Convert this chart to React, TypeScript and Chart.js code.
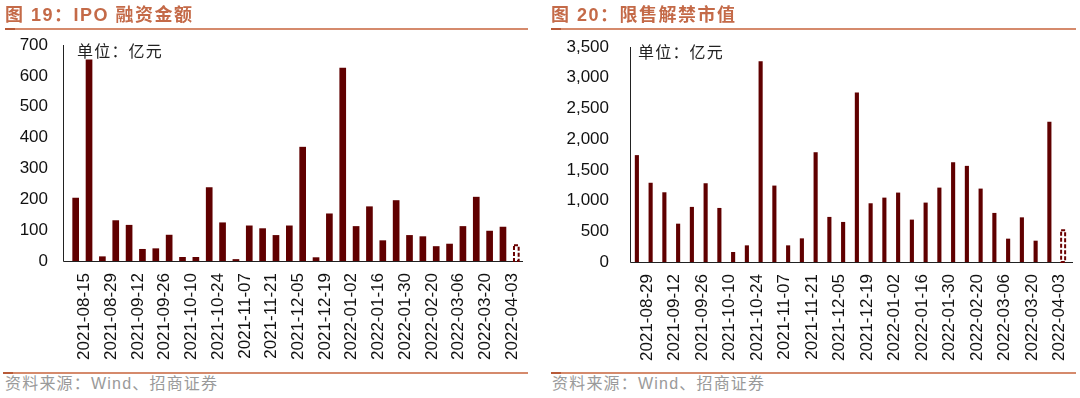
import React, { useEffect, useRef } from "react";
import { Chart, registerables } from "chart.js";

Chart.register(...registerables);

// ---- Data ----
const ipoDates = [
  "2021-08-15", "2021-08-22", "2021-08-29", "2021-09-05", "2021-09-12", "2021-09-19",
  "2021-09-26", "2021-10-03", "2021-10-10", "2021-10-17", "2021-10-24", "2021-10-31",
  "2021-11-07", "2021-11-14", "2021-11-21", "2021-11-28", "2021-12-05", "2021-12-12",
  "2021-12-19", "2021-12-26", "2022-01-02", "2022-01-09", "2022-01-16", "2022-01-23",
  "2022-01-30", "2022-02-13", "2022-02-20", "2022-02-27", "2022-03-06", "2022-03-13",
  "2022-03-20", "2022-03-27", "2022-04-03", "2022-04-10",
];
const ipoValues = [
  205, 653, 15, 132, 117, 39, 41, 85, 13, 13, 239, 125, 6, 115, 106, 84, 115,
  370, 12, 154, 626, 113, 177, 67, 197, 84, 80, 48, 56, 113, 208, 98, 111, 54,
];

const unlockDates = [
  "2021-08-29", "2021-09-05", "2021-09-12", "2021-09-19", "2021-09-26", "2021-10-03",
  "2021-10-10", "2021-10-17", "2021-10-24", "2021-10-31", "2021-11-07", "2021-11-14",
  "2021-11-21", "2021-11-28", "2021-12-05", "2021-12-12", "2021-12-19", "2021-12-26",
  "2022-01-02", "2022-01-09", "2022-01-16", "2022-01-23", "2022-01-30", "2022-02-13",
  "2022-02-20", "2022-02-27", "2022-03-06", "2022-03-13", "2022-03-20", "2022-03-27",
  "2022-04-03", "2022-04-10",
];
const unlockValues = [
  1740, 1290, 1135, 624, 897, 1282, 880, 163, 271, 3266, 1244, 271, 385, 1787, 734,
  652, 2760, 956, 1048, 1130, 690, 967, 1211, 1624, 1565, 1195, 799, 380, 727, 347,
  2283, 532,
];

const leftTitle = "图 19：IPO 融资金额";
const rightTitle = "图 20：限售解禁市值";
const unitText = "单位：亿元";
const sourceText = "资料来源：Wind、招商证券";

const BAR = "#600000";
const TITLE_COLOR = "#C46A48";
const LINE_COLOR = "#D58A6C";

const dashedLastBar = {
  id: "dashedLastBar",
  afterDatasetsDraw(chart: any) {
    const meta = chart.getDatasetMeta(0);
    const el = meta.data[meta.data.length - 1];
    if (!el) return;
    const p = el.getProps(["x", "y", "width", "base"], true);
    const w = Math.max(p.width, 6);
    const ctx = chart.ctx;
    ctx.save();
    ctx.fillStyle = "#ffffff";
    ctx.fillRect(p.x - w / 2, p.y, w, p.base - p.y);
    ctx.strokeStyle = "#6a0000";
    ctx.lineWidth = 2;
    ctx.setLineDash([4, 2]);
    ctx.strokeRect(p.x - w / 2 + 1, p.y + 1, w - 2, p.base - p.y - 1);
    ctx.restore();
  },
};

function makeAxisLines(gap: number, ext: number) {
  return {
    id: "axisLines",
    beforeDatasetsDraw(chart: any) {
      const { left, right, top, bottom } = chart.chartArea;
      const ctx = chart.ctx;
      const ax = Math.round(left - gap) + 0.5;
      const by = Math.round(bottom) + 0.5;
      ctx.save();
      ctx.strokeStyle = "#222";
      ctx.lineWidth = 1;
      ctx.beginPath();
      ctx.moveTo(ax, Math.round(top));
      ctx.lineTo(ax, by);
      ctx.lineTo(right + ext, by);
      ctx.stroke();
      ctx.restore();
    },
  };
}

type PanelCfg = {
  labels: string[];
  values: number[];
  max: number;
  step: number;
  yWidth: number;
  yPad: number;
  top: number;
  right: number;
  xHeight: number;
  barPct: number;
  labelOffset: number;
  commas: boolean;
  gap: number;
  ext: number;
};

const TICK_FONT = { family: "'Liberation Sans', Arial, sans-serif", size: 17 };

function BarPanel({ cfg }: { cfg: PanelCfg }) {
  const ref = useRef<HTMLCanvasElement | null>(null);
  useEffect(() => {
    if (!ref.current) return;
    const n = cfg.values.length;
    const colors = cfg.values.map((_, i) => (i === n - 1 ? "rgba(0,0,0,0)" : BAR));
    const chart = new Chart(ref.current, {
      type: "bar",
      data: {
        labels: cfg.labels,
        datasets: [
          {
            data: cfg.values,
            backgroundColor: colors,
            borderWidth: 0,
            barPercentage: cfg.barPct,
            categoryPercentage: 1,
          },
        ],
      },
      options: {
        responsive: false,
        animation: false,
        events: [],
        layout: { padding: { left: 0, top: cfg.top, right: cfg.right, bottom: 0 } },
        plugins: { legend: { display: false }, tooltip: { enabled: false }, title: { display: false } },
        scales: {
          x: {
            grid: { display: false, drawTicks: false },
            border: { display: false },
            ticks: {
              autoSkip: false,
              maxRotation: 90,
              minRotation: 90,
              padding: 12,
              labelOffset: cfg.labelOffset,
              color: "#111",
              font: TICK_FONT,
              callback: (_v: any, i: number) => (i % 2 === 0 ? cfg.labels[i] : ""),
            },
            afterFit: (s: any) => {
              s.height = cfg.xHeight;
              s.paddingLeft = 0;
              s.paddingRight = 0;
            },
          },
          y: {
            min: 0,
            max: cfg.max,
            grid: { display: false, drawTicks: false },
            border: { display: false },
            ticks: {
              stepSize: cfg.step,
              padding: cfg.yPad,
              color: "#111",
              font: TICK_FONT,
              callback: (v: any) => (cfg.commas ? Number(v).toLocaleString("en-US") : String(v)),
            },
            afterFit: (s: any) => {
              s.width = cfg.yWidth;
              s.paddingTop = 0;
              s.paddingBottom = 0;
            },
          },
        },
      },
      plugins: [makeAxisLines(cfg.gap, cfg.ext), dashedLastBar],
    });
    return () => chart.destroy();
  }, []);
  return <canvas ref={ref} width={540} height={372} style={{ display: "block", width: 540, height: 372 }} />;
}

const leftCfg: PanelCfg = {
  labels: ipoDates,
  values: ipoValues,
  max: 700,
  step: 100,
  yWidth: 69,
  yPad: 21,
  top: 45,
  right: 17,
  xHeight: 111,
  barPct: 0.5,
  labelOffset: 9,
  commas: false,
  gap: 6,
  ext: 0,
};

const rightCfg: PanelCfg = {
  labels: unlockDates,
  values: unlockValues,
  max: 3500,
  step: 500,
  yWidth: 90,
  yPad: 21,
  top: 47,
  right: 10,
  xHeight: 110,
  barPct: 0.3,
  labelOffset: 10,
  commas: true,
  gap: 0,
  ext: 3,
};

const cjk = "'Liberation Sans', 'Noto Sans CJK SC', sans-serif";

function Line({ left, top, width }: { left: number; top: number; width: number }) {
  return (
    <>
      <div style={{ position: "absolute", left, top, width, height: 2, background: LINE_COLOR }} />
      <div style={{ position: "absolute", left, top, width: 10, height: 2, background: "#B85A38" }} />
    </>
  );
}

export default function App() {
  return (
    <div style={{ position: "absolute", left: 0, top: 0, width: 1080, height: 398, background: "#fff", overflow: "hidden" }}>
      <div style={{ position: "absolute", left: 0, top: 0 }}>
        <BarPanel cfg={leftCfg} />
      </div>
      <div style={{ position: "absolute", left: 540, top: 0 }}>
        <BarPanel cfg={rightCfg} />
      </div>
      <div style={{ position: "absolute", left: 5, top: 4, fontFamily: cjk, fontWeight: 700, fontSize: 18, lineHeight: "22px", color: TITLE_COLOR, letterSpacing: 1.5, whiteSpace: "nowrap" }}>
        {leftTitle}
      </div>
      <div style={{ position: "absolute", left: 551, top: 4, fontFamily: cjk, fontWeight: 700, fontSize: 18, lineHeight: "22px", color: TITLE_COLOR, letterSpacing: 1.5, whiteSpace: "nowrap" }}>
        {rightTitle}
      </div>
      <Line left={5} top={28} width={523} />
      <Line left={551} top={28} width={525} />
      <Line left={3} top={372} width={525} />
      <Line left={551} top={372} width={525} />
      <div style={{ position: "absolute", left: 77, top: 43, fontFamily: cjk, fontSize: 16, lineHeight: "18px", color: "#222", letterSpacing: 1.2, whiteSpace: "nowrap" }}>
        {unitText}
      </div>
      <div style={{ position: "absolute", left: 638, top: 44, fontFamily: cjk, fontSize: 16, lineHeight: "18px", color: "#222", letterSpacing: 1.2, whiteSpace: "nowrap" }}>
        {unitText}
      </div>
      <div style={{ position: "absolute", left: 5, top: 375, fontFamily: cjk, fontSize: 16, lineHeight: "18px", color: "#9a9a9a", letterSpacing: 1.2, whiteSpace: "nowrap" }}>
        {sourceText}
      </div>
      <div style={{ position: "absolute", left: 552, top: 375, fontFamily: cjk, fontSize: 16, lineHeight: "18px", color: "#9a9a9a", letterSpacing: 1.2, whiteSpace: "nowrap" }}>
        {sourceText}
      </div>
    </div>
  );
}
